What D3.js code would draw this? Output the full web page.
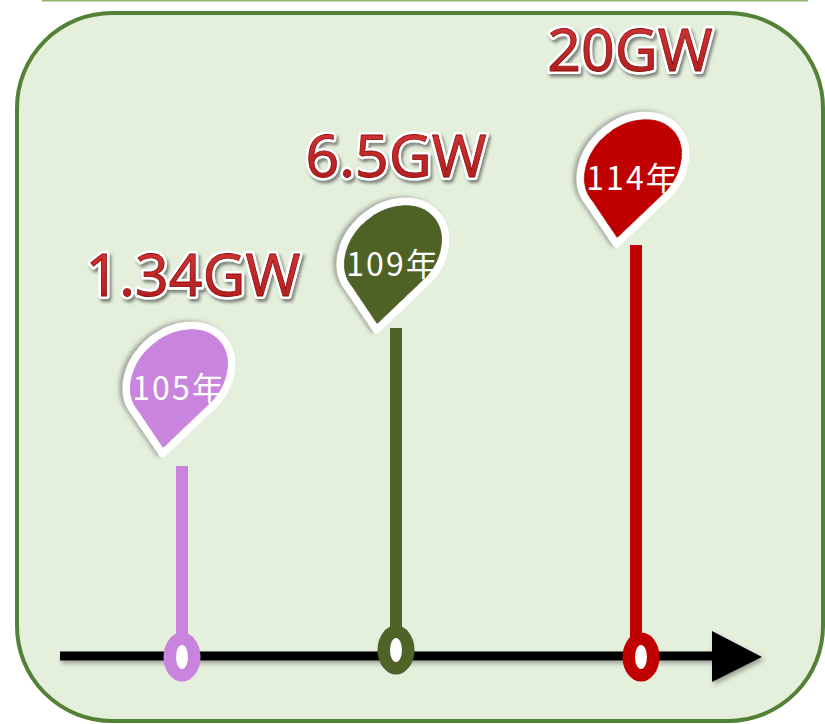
<!DOCTYPE html>
<html><head><meta charset="utf-8">
<script src="https://cdn.jsdelivr.net/npm/d3@7/dist/d3.min.js"></script>
<style>html,body{margin:0;padding:0;background:#fff;}svg{display:block;}</style>
</head><body>
<script>
// ---- data ----
const years = [105, 109, 114];
const yearLabels = ["105年", "109年", "114年"];
const capacityGW = [1.34, 6.5, 20];
const capacityLabels = ["1.34GW", "6.5GW", "20GW"];
const palette = ["#c984dd", "#4f6228", "#c00000"];

const W = 825, H = 724;
const svg = d3.select("body").append("svg").attr("width", W).attr("height", H);
const defs = svg.append("defs");

const sh = defs.append("filter").attr("id", "shadow").attr("x", "-20%").attr("y", "-20%").attr("width", "150%").attr("height", "150%");
sh.append("feDropShadow").attr("dx", 2).attr("dy", 3).attr("stdDeviation", 2).attr("flood-color", "#444").attr("flood-opacity", 0.45);
const sh2 = defs.append("filter").attr("id", "tshadow").attr("x", "-20%").attr("y", "-20%").attr("width", "150%").attr("height", "150%");
sh2.append("feDropShadow").attr("dx", 2).attr("dy", 3).attr("stdDeviation", 1.6).attr("flood-color", "#333").attr("flood-opacity", 0.55);
const grad = defs.append("linearGradient").attr("id", "redText").attr("x1", 0).attr("x2", 0).attr("y1", 0).attr("y2", 1);
grad.append("stop").attr("offset", "0%").attr("stop-color", "#dc3a3a");
grad.append("stop").attr("offset", "100%").attr("stop-color", "#a81818");

// top thin line
svg.append("line").attr("x1", 42).attr("x2", 808).attr("y1", 0.5).attr("y2", 0.5)
  .attr("stroke", "#8db36f").attr("stroke-width", 2);

// panel
svg.append("rect").attr("x", 17).attr("y", 13).attr("width", 806).attr("height", 708)
  .attr("rx", 95).attr("ry", 95)
  .attr("fill", "#e4efdc").attr("stroke", "#538135").attr("stroke-width", 4);

// scales
const x = d3.scaleLinear().domain(years).range([182, 396, 636]);
const y = d3.scaleLinear().domain(capacityGW).range([466, 328, 245]);
const pinY = d3.scaleLinear().domain(capacityGW).range([376, 252, 166]);
const labelY = d3.scaleLinear().domain(capacityGW).range([296, 177, 71]);
const axisY = 656;

// axis
const axisG = svg.append("g").attr("filter", "url(#shadow)");
axisG.append("line").attr("x1", 60).attr("x2", 714).attr("y1", axisY).attr("y2", axisY)
  .attr("stroke", "#000").attr("stroke-width", 9);
axisG.append("path").attr("d", `M712,${axisY - 25}L762,${axisY + 1}L712,${axisY + 26}Z`).attr("fill", "#000");

const data = years.map((yr, i) => ({ yr, label: yearLabels[i], v: capacityGW[i], vl: capacityLabels[i], c: palette[i] }));

// stems
svg.selectAll(".stem").data(data).join("line").attr("class", "stem")
  .attr("x1", d => x(d.yr)).attr("x2", d => x(d.yr))
  .attr("y1", d => y(d.v)).attr("y2", axisY)
  .attr("stroke", d => d.c).attr("stroke-width", 12);

// markers on axis
const mk = svg.selectAll(".mk").data(data).join("g").attr("class", "mk")
  .attr("transform", d => `translate(${x(d.yr) + (d.yr === 114 ? 5 : 0)},${axisY + (d.yr === 109 ? -6 : 1)})`);
mk.append("ellipse").attr("rx", 18.5).attr("ry", 24.5).attr("fill", d => d.c);
mk.append("ellipse").attr("rx", 6).attr("ry", 12).attr("fill", "#fff");

// pins (teardrop: ellipse with one pointed corner, rotated so the corner points down)
const p = 57.5, q = 45, k = 1.09;
const pinPath = `M0,${-q}L${k * p},${-k * q}L${p},0A${p},${q} 0 1 1 0,${-q}Z`;
const pin = svg.selectAll(".pin").data(data).join("g").attr("class", "pin")
  .attr("transform", d => `translate(${x(d.yr) - 3},${pinY(d.v)})`);
pin.append("path").attr("d", pinPath).attr("transform", "rotate(140)")
  .attr("fill", d => d.c).attr("stroke", "#fff").attr("stroke-width", 7)
  .attr("stroke-linejoin", "round").attr("filter", "url(#shadow)");
pin.append("text").attr("x", 0).attr("y", 24)
  .attr("text-anchor", "middle")
  .attr("font-family", "'Noto Sans CJK TC','Noto Sans',sans-serif")
  .attr("font-size", 32).attr("letter-spacing", 2).attr("fill", "#fff")
  .text(d => d.label);
pin.append("path").attr("d", pinPath).attr("transform", "rotate(140)")
  .attr("fill", "none").attr("stroke", "#fff").attr("stroke-width", 7).attr("stroke-linejoin", "round");

// value labels
const vl = svg.selectAll(".vl").data(data).join("g").attr("class", "vl")
  .attr("transform", d => `translate(${x(d.yr) + (d.yr === 105 ? 11 : d.yr === 114 ? -6 : 0)},${labelY(d.v)})`);
vl.append("text").attr("text-anchor", "middle")
  .attr("font-family", "'Noto Sans',sans-serif").attr("font-size", 59)
  .attr("fill", "#fff").attr("stroke", "#fff").attr("stroke-width", 6).attr("stroke-linejoin", "round")
  .attr("filter", "url(#tshadow)")
  .text(d => d.vl);
vl.append("text").attr("text-anchor", "middle")
  .attr("font-family", "'Noto Sans',sans-serif").attr("font-size", 59)
  .attr("fill", "url(#redText)").attr("stroke", "#8a0c0c").attr("stroke-width", 0.8)
  .text(d => d.vl);
</script>
</body></html>
